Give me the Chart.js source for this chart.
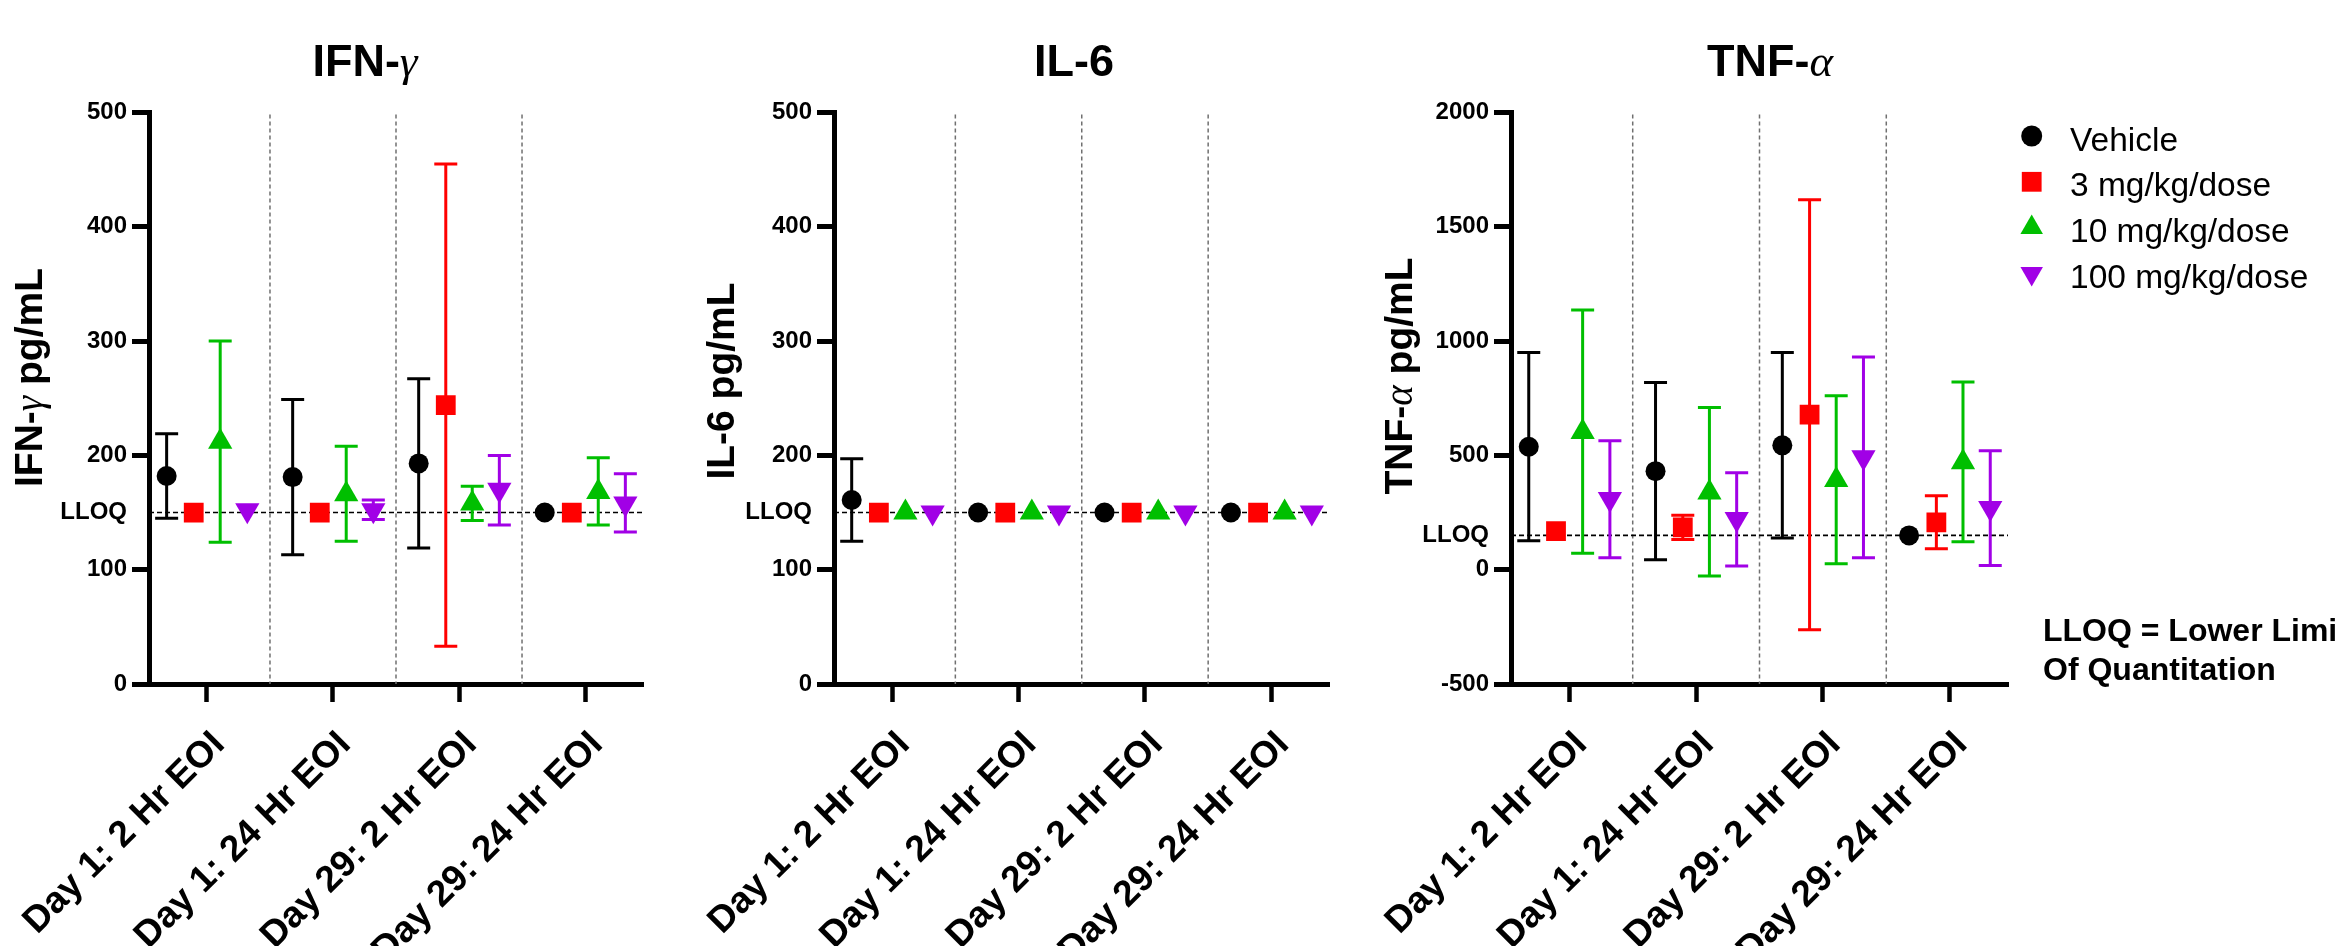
<!DOCTYPE html>
<html>
<head>
<meta charset="utf-8">
<script src="https://cdn.jsdelivr.net/npm/chart.js@4.4.1/dist/chart.umd.min.js"></script>
<style>
  html, body { margin: 0; padding: 0; background: #fff; }
  #wrap { position: relative; width: 2336px; height: 946px; overflow: hidden; background: #fff; }
  canvas { position: absolute; top: 0; }
</style>
</head>
<body>
<div id="wrap">
  <canvas id="c1" width="700" height="946" style="left:0px"></canvas>
  <canvas id="c2" width="720" height="946" style="left:680px"></canvas>
  <canvas id="c3" width="976" height="946" style="left:1360px"></canvas>
</div>
<script>
// ---- data ------------------------------------------------------------
const categories = ["Day 1: 2 Hr EOI", "Day 1: 24 Hr EOI", "Day 29: 2 Hr EOI", "Day 29: 24 Hr EOI"];
const groupNames = ["Vehicle", "3 mg/kg/dose", "10 mg/kg/dose", "100 mg/kg/dose"];

// rows = dose groups, columns = time points, null = no error bar shown
const ifnMean = [
  [182, 181, 193, 150],
  [150, 150, 244, 150],
  [212, 166, 158, 168],
  [152, 152, 170, 158]
];
const ifnLow = [
  [145, 113, 119, null],
  [null, null, 33, null],
  [124, 125, 143, 139],
  [null, 144, 139, 133]
];
const ifnHigh = [
  [219, 249, 267, null],
  [null, null, 455, null],
  [300, 208, 173, 198],
  [null, 161, 200, 184]
];
const ifnTicks = [0, 100, 200, 300, 400, 500];

const il6Mean = [
  [161, 150, 150, 150],
  [150, 150, 150, 150],
  [150, 150, 150, 150],
  [150, 150, 150, 150]
];
const il6Low = [
  [125, null, null, null],
  [null, null, null, null],
  [null, null, null, null],
  [null, null, null, null]
];
const il6High = [
  [197, null, null, null],
  [null, null, null, null],
  [null, null, null, null],
  [null, null, null, null]
];
const il6Ticks = [0, 100, 200, 300, 400, 500];

const tnfMean = [
  [538, 431, 544, 150],
  [169, 185, 678, 207],
  [602, 338, 392, 470],
  [309, 222, 492, 270]
];
const tnfLow = [
  [127, 44, 139, null],
  [null, 132, -263, 92],
  [72, -28, 26, 122],
  [52, 16, 52, 18]
];
const tnfHigh = [
  [950, 819, 950, null],
  [null, 238, 1618, 323],
  [1136, 709, 761, 821],
  [564, 424, 930, 520]
];
const tnfTicks = [-500, 0, 500, 1000, 1500, 2000];

const lloq = 150;

// ---- style -----------------------------------------------------------
const groupColors = ["#000000", "#FF0000", "#00BF00", "#A100E6"];
const groupShapes = ["circle", "rect", "triangle", "triangle"];
const groupRotation = [0, 0, 0, 180];
const groupRadius = [10, 14, 14, 14];
const groupOffsets = [-0.32, -0.105, 0.105, 0.32];

const SANS = '"Liberation Sans", Arial, sans-serif';
Chart.defaults.font.family = SANS;
Chart.defaults.color = "#000";

// text with greek letters in italic serif (like the Symbol font glyphs)
function drawMixed(ctx, text, x, y, size, align) {
  const parts = text.split(/([α-ω])/).filter(s => s.length);
  const fontFor = s => /[α-ω]/.test(s)
    ? "italic " + size + "px \"Liberation Serif\", serif"
    : "bold " + size + "px " + SANS;
  let total = 0;
  parts.forEach(p => { ctx.font = fontFor(p); total += ctx.measureText(p).width; });
  let cx = align === "center" ? x - total / 2 : x;
  ctx.textAlign = "left";
  parts.forEach(p => {
    ctx.font = fontFor(p);
    ctx.fillText(p, cx, y);
    cx += ctx.measureText(p).width;
  });
}

function makePanel(id, p) {
  const datasets = groupNames.map((name, g) => ({
    label: name,
    data: categories.map((c, i) => ({ x: i + groupOffsets[g], y: p.mean[g][i] })),
    backgroundColor: groupColors[g],
    borderColor: groupColors[g],
    pointStyle: groupShapes[g],
    rotation: groupRotation[g],
    pointRadius: groupRadius[g],
    pointBorderWidth: 0,
    showLine: false
  }));

  const decor = {
    id: "decor_" + id,
    beforeDatasetsDraw(chart) {
      const { ctx, chartArea, scales: { x, y } } = chart;
      ctx.save();
      // dotted separators between time points
      ctx.strokeStyle = "#707070";
      ctx.lineWidth = 1.5;
      ctx.setLineDash([4, 3]);
      [0.5, 1.5, 2.5].forEach(v => {
        const px = x.getPixelForValue(v);
        ctx.beginPath();
        ctx.moveTo(px, chartArea.top + 2);
        ctx.lineTo(px, chartArea.bottom);
        ctx.stroke();
      });
      // LLOQ line
      ctx.strokeStyle = "#000";
      ctx.lineWidth = 1.6;
      ctx.setLineDash([5, 3]);
      const ly = y.getPixelForValue(lloq);
      ctx.beginPath();
      ctx.moveTo(chartArea.left, ly);
      ctx.lineTo(chartArea.right, ly);
      ctx.stroke();
      ctx.setLineDash([]);
      // error bars
      ctx.lineWidth = 3;
      chart.data.datasets.forEach((ds, g) => {
        ctx.strokeStyle = ds.borderColor;
        ds.data.forEach((pt, i) => {
          const lo = p.low[g][i], hi = p.high[g][i];
          if (lo == null || hi == null) return;
          const px = x.getPixelForValue(pt.x);
          const y1 = y.getPixelForValue(hi), y2 = y.getPixelForValue(lo);
          const cap = 11.5;
          ctx.beginPath();
          ctx.moveTo(px, y1); ctx.lineTo(px, y2);
          ctx.moveTo(px - cap, y1); ctx.lineTo(px + cap, y1);
          ctx.moveTo(px - cap, y2); ctx.lineTo(px + cap, y2);
          ctx.stroke();
        });
      });
      ctx.restore();
    },
    afterDraw(chart) {
      const ctx = chart.ctx;
      ctx.save();
      ctx.fillStyle = "#000";
      ctx.textBaseline = "alphabetic";
      // panel title
      drawMixed(ctx, p.title, p.titleX - p.left, 75.5, 45, "center");
      // y axis title
      ctx.save();
      ctx.translate(p.yTitleX - p.left, p.yTitleY);
      ctx.rotate(-Math.PI / 2);
      drawMixed(ctx, p.yTitle, 0, 0, 39, "center");
      ctx.restore();

      if (p.legend) {
        const lx = 2031.7 - p.left, tx = 2070 - p.left;
        const legendRadius = [10.5, 14, 13, 13];
        chart.data.datasets.forEach((ds, g) => {
          const ry = 136 + g * 45.8;
          ctx.fillStyle = ds.backgroundColor;
          Chart.helpers.drawPoint(ctx, {
            pointStyle: ds.pointStyle, rotation: ds.rotation,
            radius: legendRadius[g], borderWidth: 0
          }, lx, ry);
          ctx.fillStyle = "#000";
          ctx.font = "33.5px " + SANS;
          ctx.textAlign = "left";
          ctx.fillText(ds.label, tx, ry + 14.5);
        });
        ctx.font = "bold 32px " + SANS;
        ctx.fillText("LLOQ = Lower Limit", 2043 - p.left, 641);
        ctx.fillText("Of Quantitation", 2043 - p.left, 680);
      }
      ctx.restore();
    }
  };

  return new Chart(document.getElementById(id), {
    type: "scatter",
    data: { datasets },
    options: {
      responsive: false,
      animation: false,
      events: [],
      devicePixelRatio: 1,
      layout: { padding: { top: 112.5, right: p.padRight, bottom: 0, left: 0 } },
      plugins: { legend: { display: false }, tooltip: { enabled: false } },
      scales: {
        x: {
          type: "linear",
          min: -0.46,
          max: 3.46,
          afterBuildTicks: s => { s.ticks = categories.map((c, i) => ({ value: i })); },
          afterFit: s => { s.height = 262; s.paddingLeft = 0; s.paddingRight = 0; },
          ticks: {
            autoSkip: false,
            minRotation: 45,
            maxRotation: 45,
            padding: 21,
            labelOffset: 12,
            color: "#000",
            font: { size: 37, weight: "bold", lineHeight: 1.2 },
            callback: (v, i) => categories[i]
          },
          grid: { drawOnChartArea: false, drawTicks: true, tickLength: 18, tickWidth: 4.5, tickColor: "#000" },
          border: { display: true, color: "#000", width: 5 }
        },
        y: {
          type: "linear",
          min: p.ticks[0],
          max: p.ticks[p.ticks.length - 1],
          afterBuildTicks: s => {
            s.ticks = p.ticks.concat([lloq]).sort((a, b) => a - b).map(v => ({ value: v }));
          },
          afterFit: s => { s.width = p.yWidth; s.paddingTop = 0; s.paddingBottom = 0; },
          ticks: {
            autoSkip: false,
            padding: 5,
            color: "#000",
            font: { size: 24, weight: "bold" },
            callback: v => (v === lloq ? "LLOQ" : String(v))
          },
          grid: {
            drawOnChartArea: false,
            drawTicks: true,
            tickLength: 17,
            tickWidth: 5,
            tickColor: c => (c.tick && c.tick.value === lloq ? "rgba(0,0,0,0)" : "#000")
          },
          border: { display: true, color: "#000", width: 5 }
        }
      }
    },
    plugins: [decor]
  });
}

makePanel("c1", {
  left: 0, yWidth: 149, padRight: 57,
  mean: ifnMean, low: ifnLow, high: ifnHigh, ticks: ifnTicks,
  title: "IFN-γ", titleX: 365, yTitle: "IFN-γ pg/mL", yTitleX: 41.7, yTitleY: 377.5
});
makePanel("c2", {
  left: 680, yWidth: 154, padRight: 70.5,
  mean: il6Mean, low: il6Low, high: il6High, ticks: il6Ticks,
  title: "IL-6", titleX: 1074, yTitle: "IL-6 pg/mL", yTitleX: 733.5, yTitleY: 381
});
makePanel("c3", {
  left: 1360, yWidth: 151, padRight: 328,
  mean: tnfMean, low: tnfLow, high: tnfHigh, ticks: tnfTicks,
  title: "TNF-α", titleX: 1770, yTitle: "TNF-α pg/mL", yTitleX: 1411.7, yTitleY: 376,
  legend: true
});
</script>
</body>
</html>
